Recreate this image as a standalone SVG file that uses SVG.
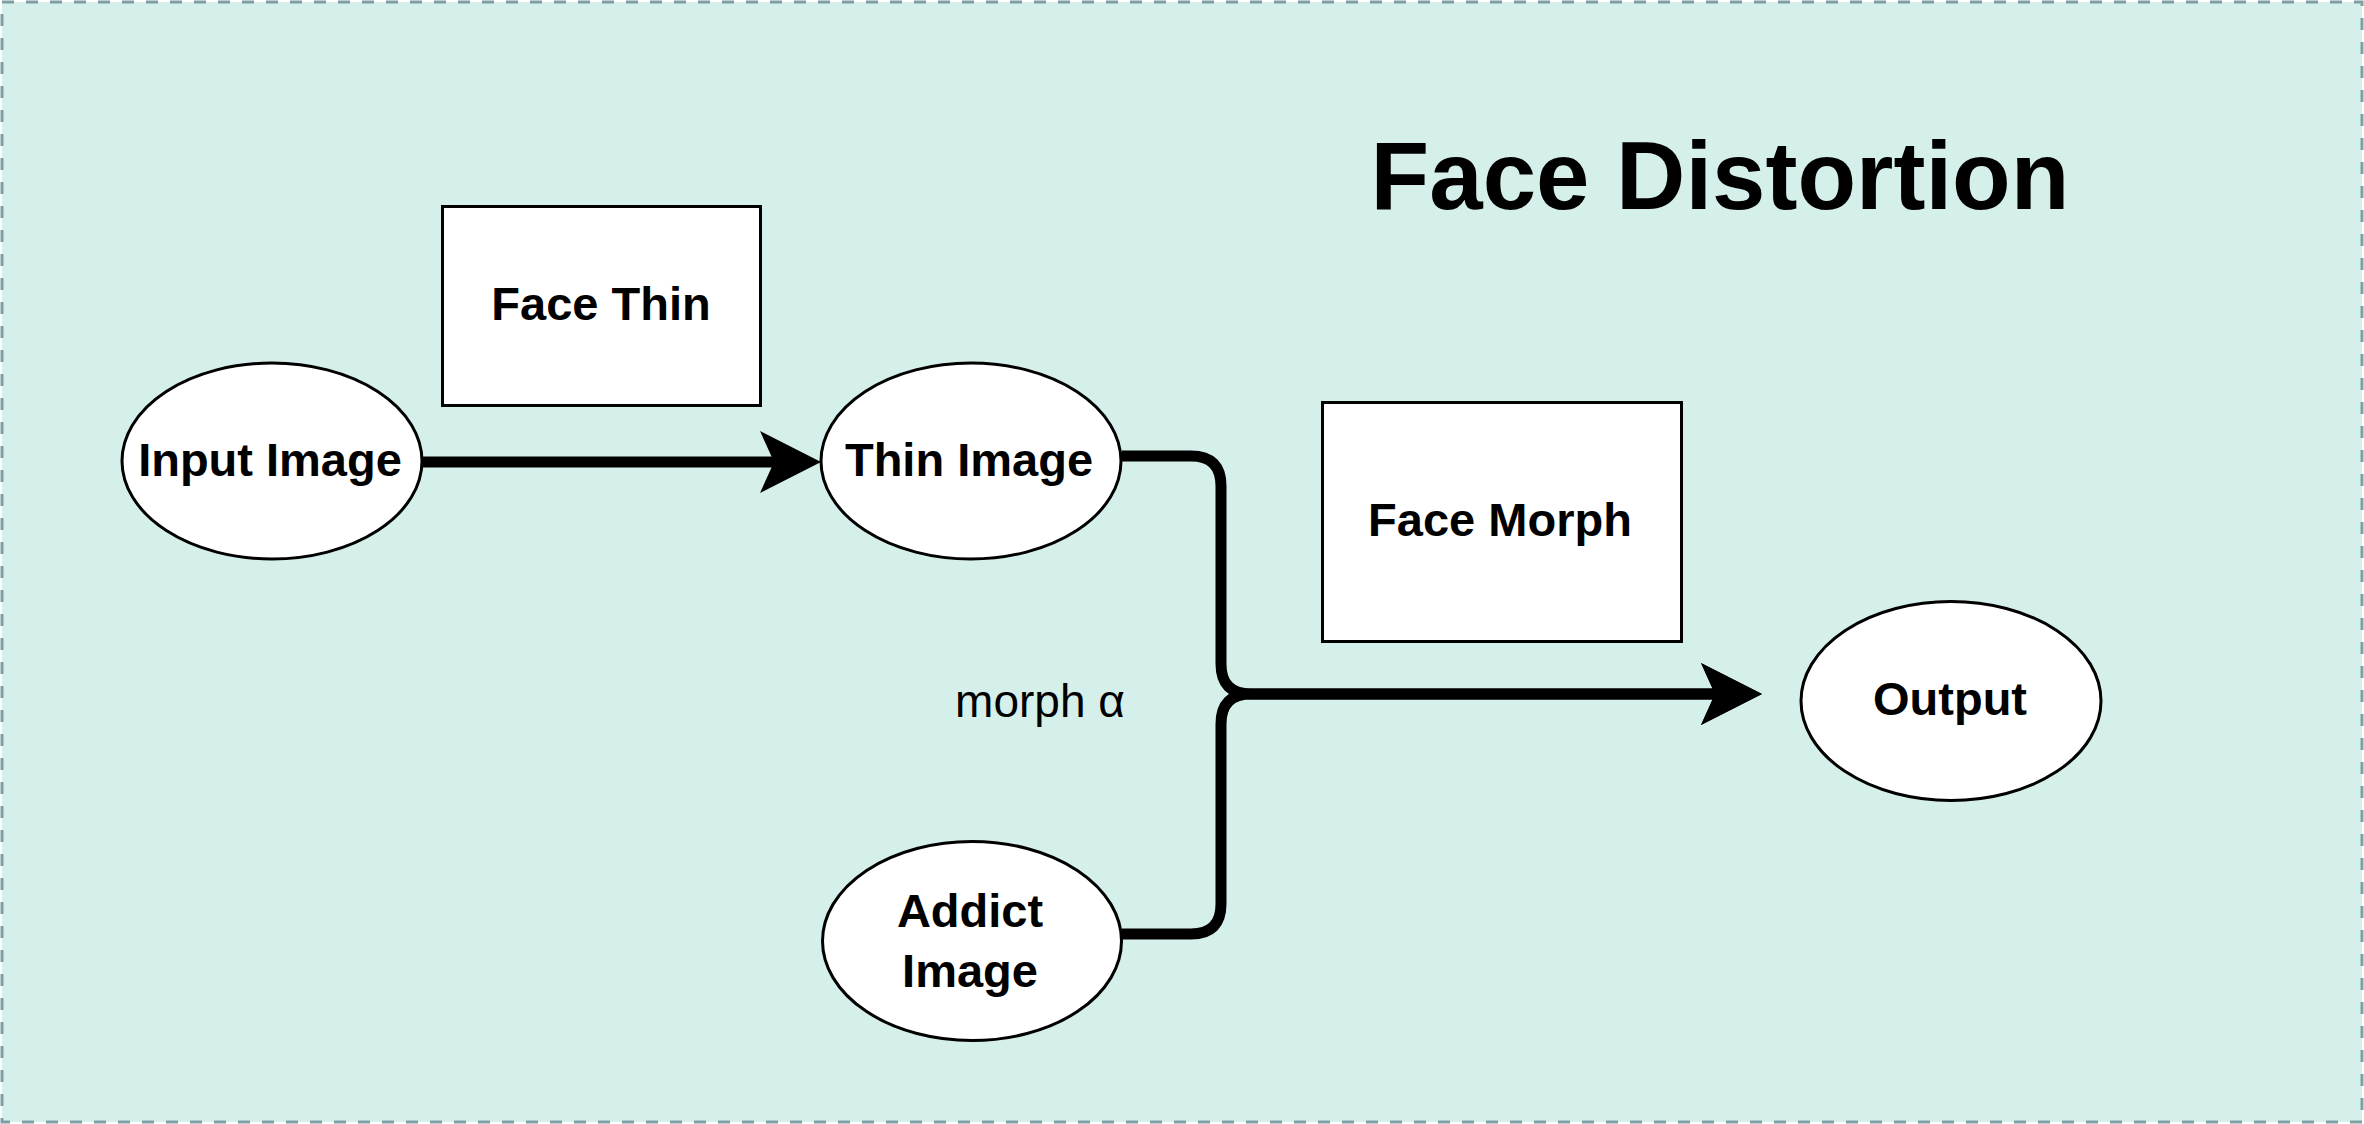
<svg xmlns="http://www.w3.org/2000/svg" width="2364" height="1124" viewBox="0 0 2364 1124">
  <style>
    .frame { fill: #D5EFEB; stroke: #7E9FA3; stroke-width: 3; stroke-dasharray: 12 12; }
    .node { fill: #FFFFFF; stroke: #000000; stroke-width: 3; }
    .lbl { font-family: "Liberation Sans", Arial, sans-serif; font-weight: bold; font-size: 47px; fill: #000000; text-anchor: middle; }
    .title { font-family: "Liberation Sans", Arial, sans-serif; font-weight: bold; font-size: 96px; fill: #000000; text-anchor: middle; }
    .edge { fill: none; stroke: #000000; stroke-width: 11; stroke-linejoin: round; }
    .elbl { font-family: "Liberation Sans", Arial, sans-serif; font-size: 46px; fill: #000000; text-anchor: middle; }
  </style>
  <defs>
    <marker id="arrow" markerUnits="userSpaceOnUse" markerWidth="70" markerHeight="70" refX="14" refY="31" orient="auto" overflow="visible">
      <path d="M0,0 L61,31 L0,62 L14,31 Z" fill="#000000"/>
    </marker>
  </defs>

  <rect id="frame" class="frame" x="2" y="2" width="2360" height="1120"/>

  <g id="title">
    <text class="title" x="1720" y="209">Face Distortion</text>
  </g>

  <g id="connectors">
    <path id="e-input-thin" class="edge" d="M423,462 H774" marker-end="url(#arrow)"/>
    <path id="e-thin-output" class="edge" d="M1122,456 H1191 Q1221,456 1221,486 V664 Q1221,694 1251,694 H1715" marker-end="url(#arrow)"/>
    <path id="e-addict-output" class="edge" d="M1122,934 H1191 Q1221,934 1221,904 V724 Q1221,694 1251,694 H1715" marker-end="url(#arrow)"/>
    <text class="elbl" x="1040" y="717">morph α</text>
  </g>

  <g id="face-thin">
    <rect class="node" x="442.5" y="206.5" width="318" height="199"/>
    <text class="lbl" x="601" y="320">Face Thin</text>
  </g>

  <g id="input-image">
    <ellipse class="node" cx="272" cy="461" rx="150" ry="98"/>
    <text class="lbl" x="270" y="476">Input Image</text>
  </g>

  <g id="thin-image">
    <ellipse class="node" cx="971" cy="461" rx="150" ry="98"/>
    <text class="lbl" x="969" y="476">Thin Image</text>
  </g>

  <g id="face-morph">
    <rect class="node" x="1322.5" y="402.5" width="359" height="239"/>
    <text class="lbl" x="1500" y="536">Face Morph</text>
  </g>

  <g id="output">
    <ellipse class="node" cx="1951" cy="701" rx="150" ry="99.5"/>
    <text class="lbl" x="1950" y="715">Output</text>
  </g>

  <g id="addict-image">
    <ellipse class="node" cx="972" cy="941" rx="149.5" ry="99.5"/>
    <text class="lbl" x="970" y="927">Addict</text>
    <text class="lbl" x="970" y="987">Image</text>
  </g>
</svg>
